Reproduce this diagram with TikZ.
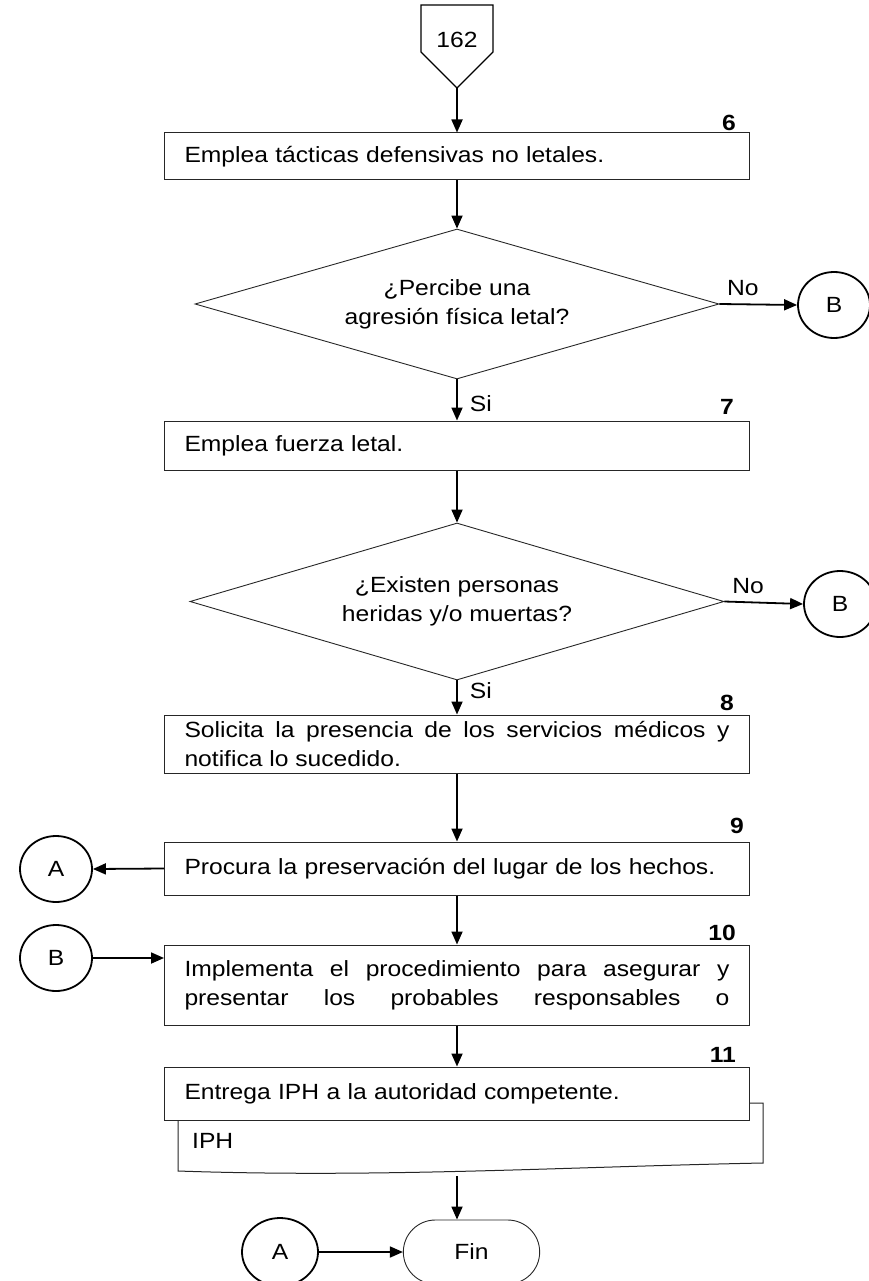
\documentclass[tikz,border=0pt]{standalone}
\usepackage{fontspec}
\setmainfont{Liberation Sans}[FakeStretch=1.12]
\usetikzlibrary{shapes.geometric, shapes.misc, arrows.meta, positioning, calc}

\newcommand{\chartfont}{\fontsize{22}{29}\selectfont}

\tikzset{
    flowline/.style={-{Triangle[length=13pt,width=11pt]}, line width=1.8pt},
    stepbox/.style={rectangle, draw=black!85, fill=white, line width=1pt, inner xsep=20pt, inner ysep=0pt,
        minimum width=585pt, text width=545pt, align=left},
    decision/.style={diamond, draw=black!85, line width=0.9pt, inner sep=0pt, align=center},
    connector/.style={ellipse, draw, line width=1.8pt, minimum width=72pt, minimum height=66pt, inner sep=0pt},
    terminal/.style={rounded rectangle, draw=black!85, line width=0.9pt, minimum width=143pt, minimum height=64pt},
    stepnum/.style={font=\chartfont\bfseries, inner sep=0pt},
    answer/.style={inner sep=0pt}
}

\begin{document}
\begin{tikzpicture}[x=1pt, y=-1pt, font=\chartfont]
    \useasboundingbox (0,0) rectangle (869,1281);

    % off-page connector
    \draw[line width=1.3pt, fill=white] (421,5) -- (493,5) -- (493,52) -- (457,88) -- (421,52) -- cycle;
    \node[answer] (p162) at (457,40) {162};
    \coordinate (p162tip) at (457,88);

    \node[stepbox, minimum height=47pt] (s6) at (457,156.5)
        {Emplea tácticas defensivas no letales.};
    \node[stepnum, above left=2pt and 14pt of s6.north east] {6};

    % first decision
    \node[decision, aspect=3.49, minimum width=524pt, minimum height=150pt] (d1) at (457,304)
        {¿Percibe una\\agresión física letal?};
    \node[connector] (b1) at (834,305) {B};

    \node[stepbox, minimum height=49pt] (s7) at (457,445.5)
        {Emplea fuerza letal.};
    \node[stepnum, above left=6pt and 16pt of s7.north east] {7};

    % second decision
    \node[decision, aspect=3.4, minimum width=534pt, minimum height=157pt] (d2) at (457,601.5)
        {¿Existen personas\\heridas y/o muertas?};
    \node[connector] (b2) at (840,604) {B};

    \node[stepbox, minimum height=58pt, align=justify] (s8) at (457,744)
        {Solicita la presencia de los servicios médicos y\linebreak notifica lo sucedido.};
    \node[stepnum, above left=4pt and 16pt of s8.north east] {8};

    \node[stepbox, minimum height=53pt] (s9) at (457,868.5)
        {Procura la preservación del lugar de los hechos.};
    \node[stepnum, above left=8pt and 6pt of s9.north east] {9};
    \node[connector] (a1) at (56,869) {A};

    \node[stepbox, minimum height=80pt, align=justify] (s10) at (457,985)
        {\parfillskip=0pt Implementa el procedimiento para asegurar y\linebreak
         presentar los probables responsables o\par\vspace*{10pt}};
    \node[stepnum, above left=4pt and 14pt of s10.north east] {10};
    \node[connector] (b3) at (56,958) {B};

    % document behind the last step
    \draw[draw=black!85, line width=1pt, fill=white] (178,1103) -- (763,1103) -- (763,1163)
        .. controls (560,1167) and (380,1178) .. (178,1171) -- cycle;
    \node[answer, anchor=west] (iph) at (192,1141) {IPH};
    \coordinate (docend) at (457,1176);

    \node[stepbox, minimum height=53pt] (s11) at (457,1093.5)
        {Entrega IPH a la autoridad competente.};
    \node[stepnum, above left=4pt and 14pt of s11.north east] {11};

    \node[terminal] (fin) at (471.5,1252) {Fin};
    \node[connector, minimum width=76pt, minimum height=68pt] (a2) at (280,1252) {A};

    % flow
    \draw[flowline] (p162tip) -- (s6.north);
    \draw[flowline] (s6.south) -- (d1.north);
    \draw[flowline] (d1.east) -- node[answer, pos=0.3, above=8pt] {No} (b1.west);
    \draw[flowline] (d1.south) -- node[answer, pos=0.6, right=12pt] {Si} (s7.north);
    \draw[flowline] (s7.south) -- (d2.north);
    \draw[flowline] (d2.east) -- node[answer, pos=0.3, above=8pt] {No} (b2.west);
    \draw[flowline] (d2.south) -- node[answer, pos=0.3, right=12pt] {Si} (s8.north);
    \draw[flowline] (s8.south) -- (s9.north);
    \draw[flowline] (s9.west) -- (a1.east);
    \draw[flowline] (s9.south) -- (s10.north);
    \draw[flowline] (b3.east) -- (b3.east -| s10.west);
    \draw[flowline] (s10.south) -- (s11.north);
    \draw[flowline] (docend) -- (docend |- fin.north);
    \draw[flowline] (a2.east) -- (fin.west);
\end{tikzpicture}
\end{document}
